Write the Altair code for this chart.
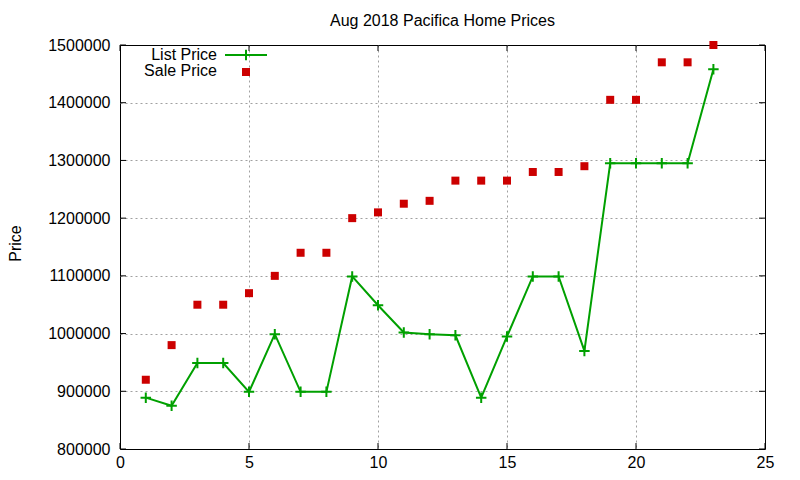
import altair as alt
import pandas as pd

# ---- data ----
house = list(range(1, 24))
list_price = [889000, 875000, 949000, 949000, 899000, 999000, 899000, 899000,
              1099000, 1049000, 1002000, 999000, 997000, 889000, 995000,
              1099000, 1099000, 970000, 1295000, 1295000, 1295000, 1295000,
              1458000]
sale_price = [920000, 980000, 1050000, 1050000, 1070000, 1100000, 1140000,
              1140000, 1200000, 1210000, 1225000, 1230000, 1265000, 1265000,
              1265000, 1280000, 1280000, 1290000, 1405000, 1405000, 1470000,
              1470000, 1500000]
x_ticks = [0, 5, 10, 15, 20, 25]
y_ticks = [800000, 900000, 1000000, 1100000, 1200000, 1300000, 1400000, 1500000]
series_names = ["List Price", "Sale Price"]
chart_title = "Aug 2018 Pacifica Home Prices"
y_title = "Price"

GREEN = "#00a000"
RED = "#cc0000"
FONT = "Liberation Sans"
FS = 16
W, H = 645, 404

df_list = pd.DataFrame({"idx": house, "price": list_price})
df_sale = pd.DataFrame({"idx": house, "price": sale_price})
df_xt = pd.DataFrame({"idx": x_ticks})
df_yt = pd.DataFrame({"price": y_ticks})
df_leg = pd.DataFrame({"label": series_names})

xs = alt.Scale(domain=[0, 25], nice=False, zero=False)
ys = alt.Scale(domain=[800000, 1500000], nice=False, zero=False)

x_axis = alt.Axis(values=x_ticks, title=None, grid=True, domain=False,
                  tickSize=0, labelPadding=5, labelFont=FONT, labelFontSize=FS,
                  labelColor="black", labelFlush=False,
                  gridOpacity={"condition": {"test": "datum.value == 0 || datum.value == 25", "value": 0}, "value": 1})
y_axis = alt.Axis(values=y_ticks, format="d", title=y_title, grid=True,
                  domain=False, tickSize=0, labelPadding=10, labelFont=FONT,
                  labelFontSize=FS, labelColor="black", labelFlush=False,
                  titleFont=FONT, titleFontSize=FS, titleFontWeight="normal",
                  titleColor="black", titleAngle=-90, titleX=-100, titleY=198,
                  titleAlign="center", titleBaseline="alphabetic",
                  gridOpacity={"condition": {"test": "datum.value == 800000 || datum.value == 1500000", "value": 0}, "value": 1})

X = alt.X("idx:Q", scale=xs, axis=x_axis)
Y = alt.Y("price:Q", scale=ys, axis=y_axis)

line = alt.Chart(df_list).mark_line(color=GREEN, strokeWidth=2).encode(x=X, y=Y)
plus = alt.Chart(df_list).mark_point(
    shape="M-1,0L1,0M0,-1L0,1", size=110, filled=False, color=GREEN,
    strokeWidth=2, opacity=1).encode(x=X, y=Y)
squares = alt.Chart(df_sale).mark_square(size=64, color=RED, opacity=1).encode(x=X, y=Y)

# inward ticks on all four sides (gnuplot style)
tick_len = 6
yt_left = alt.Chart(df_yt).mark_rule(color="black", strokeWidth=1).encode(
    y=Y, x=alt.value(0), x2=alt.value(tick_len))
yt_right = alt.Chart(df_yt).mark_rule(color="black", strokeWidth=1).encode(
    y=Y, x=alt.value(W - tick_len), x2=alt.value(W))
xt_bottom = alt.Chart(df_xt).mark_rule(color="black", strokeWidth=1).encode(
    x=X, y=alt.value(H), y2=alt.value(H - tick_len))
xt_top = alt.Chart(df_xt).mark_rule(color="black", strokeWidth=1).encode(
    x=X, y=alt.value(0), y2=alt.value(tick_len))

# legend (text, then symbol, like gnuplot's key)
leg = alt.Chart(df_leg)
leg_txt_list = leg.transform_filter(alt.datum.label == series_names[0]).mark_text(
    align="right", baseline="middle", font=FONT, fontSize=FS, color="black").encode(
    x=alt.value(97), y=alt.value(10), text="label:N")
leg_txt_sale = leg.transform_filter(alt.datum.label == series_names[1]).mark_text(
    align="right", baseline="middle", font=FONT, fontSize=FS, color="black").encode(
    x=alt.value(97), y=alt.value(26), text="label:N")
leg_line = leg.transform_filter(alt.datum.label == series_names[0]).mark_rule(
    color=GREEN, strokeWidth=2).encode(x=alt.value(105), x2=alt.value(147), y=alt.value(10))
leg_plus = leg.transform_filter(alt.datum.label == series_names[0]).mark_point(
    shape="M-1,0L1,0M0,-1L0,1", size=110, filled=False, color=GREEN,
    strokeWidth=2, opacity=1).encode(x=alt.value(126), y=alt.value(10))
leg_sq = leg.transform_filter(alt.datum.label == series_names[1]).mark_square(
    size=64, color=RED, opacity=1).encode(x=alt.value(126), y=alt.value(27))

chart = alt.layer(
    line, plus, squares, yt_left, yt_right, xt_bottom, xt_top,
    leg_txt_list, leg_txt_sale, leg_line, leg_plus, leg_sq
).properties(
    width=W, height=H,
    title=alt.TitleParams(chart_title, font=FONT, fontSize=FS, fontWeight="normal",
                          color="black", anchor="middle", frame="group",
                          offset=8),
    autosize=alt.AutoSizeParams(type="none"),
    padding={"left": 112, "top": 37, "right": 20, "bottom": 20},
).configure_view(
    stroke="black", strokeWidth=1
).configure_axis(
    gridColor="#a0a0a0", gridDash=[2, 3], gridWidth=1
)

chart.save("out.html", embed_options={"renderer": "svg", "actions": False})
